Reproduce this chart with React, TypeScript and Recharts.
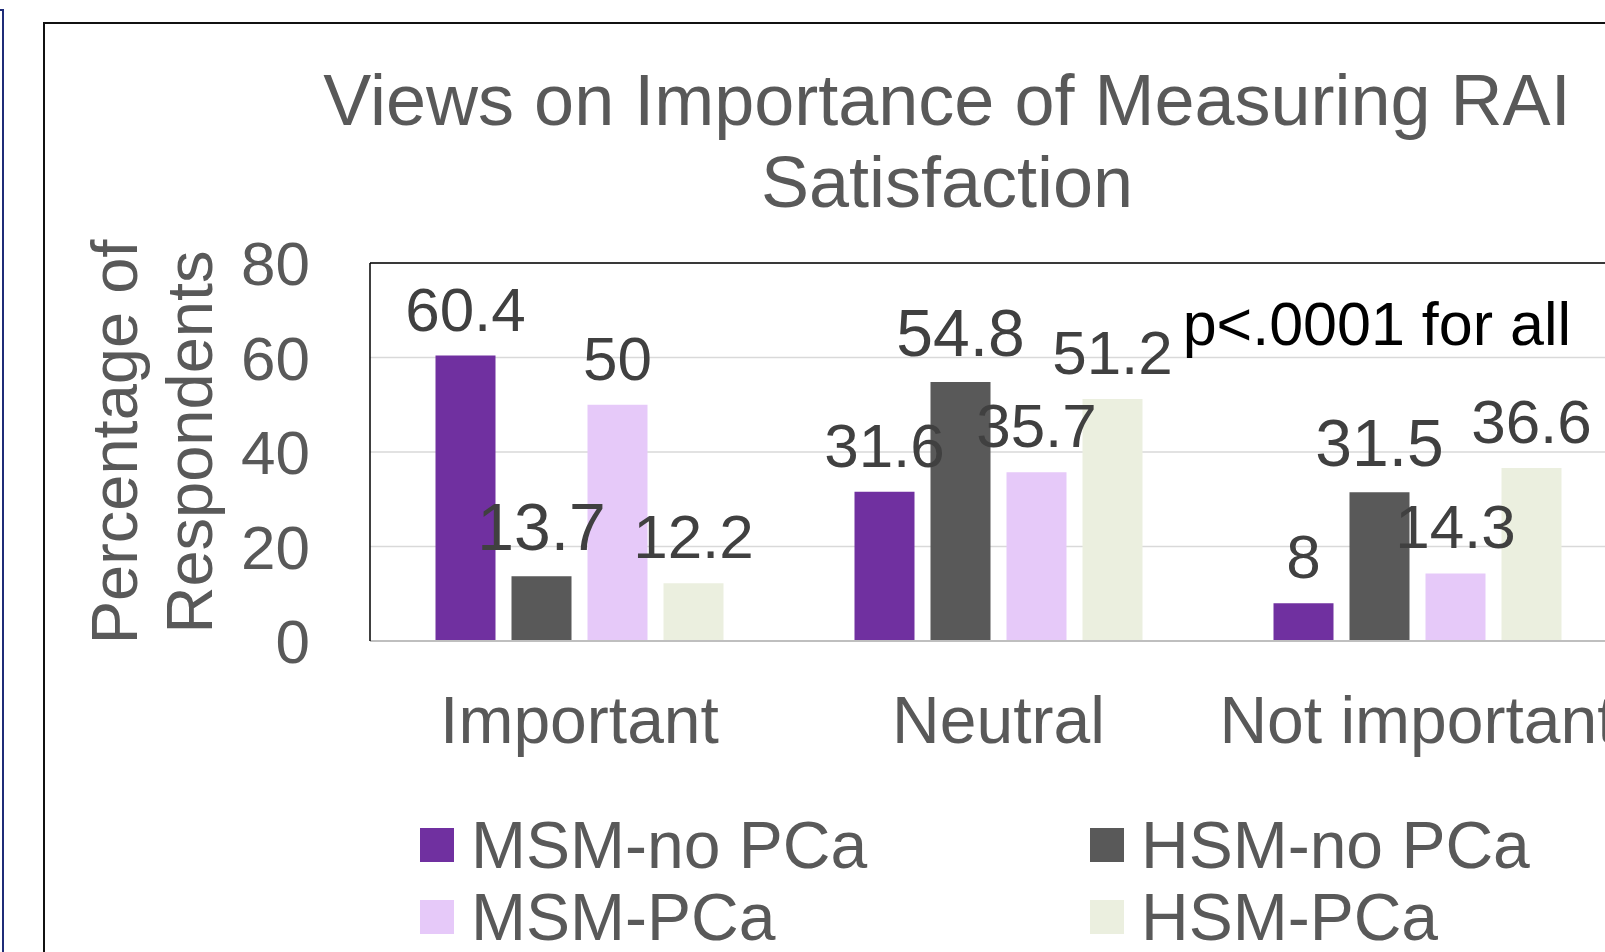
import React from 'react';
import { BarChart, Bar, XAxis, YAxis, CartesianGrid, LabelList, Legend, ReferenceLine } from 'recharts';

const categories = ['Important', 'Neutral', 'Not important'];
const msmNoPca = [60.4, 31.6, 8];
const hsmNoPca = [13.7, 54.8, 31.5];
const msmPca = [50, 35.7, 14.3];
const hsmPca = [12.2, 51.2, 36.6];
const yTicks = [0, 20, 40, 60, 80];
const legendOrder = ['MSM-no PCa', 'HSM-no PCa', 'MSM-PCa', 'HSM-PCa'];

const data = categories.map((c, i) => ({
  category: c,
  msmNoPca: msmNoPca[i],
  hsmNoPca: hsmNoPca[i],
  msmPca: msmPca[i],
  hsmPca: hsmPca[i],
}));

const FONT = '"Liberation Sans", Arial, sans-serif';

const renderLegend = (props: any) => {
  const payload = [...(props.payload || [])].sort(
    (a: any, b: any) => legendOrder.indexOf(a.value) - legendOrder.indexOf(b.value)
  );
  return (
    <div
      style={{
        display: 'grid',
        gridTemplateColumns: '670px 670px',
        fontFamily: FONT,
        fontSize: 66,
        lineHeight: '72px',
        color: '#595959',
      }}
    >
      {payload.map((p: any) => (
        <div key={p.value} style={{ display: 'flex', alignItems: 'center', height: 72, whiteSpace: 'nowrap' }}>
          <span style={{ width: 34, height: 34, background: p.color, marginRight: 17, flex: 'none' }} />
          <span>{p.value}</span>
        </div>
      ))}
    </div>
  );
};

const YLabel = (props: any) => {
  const vb = props.viewBox || { x: 0, y: 0, width: 0, height: 0 };
  const cx = vb.x + 137;
  const cy = vb.y + vb.height / 2 - 10;
  return (
    <text
      x={cx}
      y={cy}
      transform={`rotate(-90 ${cx} ${cy})`}
      textAnchor="middle"
      fill="#595959"
      fontSize={65}
      fontFamily={FONT}
    >
      <tspan x={cx} dy={0}>Percentage of</tspan>
      <tspan x={cx} dy={75}>Respondents</tspan>
    </text>
  );
};

const PLabel = (props: any) => {
  const vb = props.viewBox || { x: 0, y: 0, width: 0, height: 0 };
  return (
    <text
      x={vb.x + vb.width - 56}
      y={vb.y + 82}
      textAnchor="end"
      fill="#000000"
      fontSize={61}
      fontFamily={FONT}
    >
      p&lt;.0001 for all
    </text>
  );
};

export default function App() {
  return (
    <div
      style={{
        position: 'absolute',
        left: 0,
        top: 0,
        width: 1605,
        height: 952,
        overflow: 'hidden',
        background: '#ffffff',
        fontFamily: FONT,
      }}
    >
      <div
        style={{
          position: 'absolute',
          left: -8,
          top: 9,
          width: 12,
          height: 2000,
          border: '2px solid #1f2c78',
          boxSizing: 'border-box',
        }}
      />
      <div
        style={{
          position: 'absolute',
          left: 43,
          top: 22,
          width: 3000,
          height: 3000,
          border: '2px solid #111111',
          boxSizing: 'border-box',
        }}
      />
      <div
        style={{
          position: 'absolute',
          left: 0,
          top: 59,
          width: 1894,
          textAlign: 'center',
          fontSize: 72,
          lineHeight: '82px',
          color: '#595959',
          whiteSpace: 'nowrap',
        }}
      >
        Views on Importance of Measuring RAI
        <br />
        Satisfaction
      </div>
      <div style={{ position: 'absolute', left: 0, top: 0 }}>
        <BarChart
          width={1700}
          height={952}
          data={data}
          margin={{ top: 263, right: 73, bottom: 211, left: 0 }}
          barCategoryGap={65.5}
          barGap={16}
        >
          <CartesianGrid vertical={false} stroke="#d9d9d9" strokeWidth={1.5} />
          <XAxis
            dataKey="category"
            height={100}
            interval={0}
            tickLine={false}
            tickSize={0}
            tickMargin={55}
            axisLine={{ stroke: '#bfbfbf', strokeWidth: 2 }}
            tick={{ fill: '#595959', fontSize: 66, fontFamily: FONT }}
          />
          <YAxis
            width={370}
            domain={[0, 80]}
            ticks={yTicks}
            interval={0}
            tickLine={false}
            tickSize={0}
            tickMargin={60}
            axisLine={{ stroke: '#000000', strokeWidth: 1.5 }}
            tick={{ fill: '#595959', fontSize: 62, fontFamily: FONT }}
            label={<YLabel />}
          />
          <ReferenceLine y={80} stroke="#000000" strokeWidth={1.5} label={<PLabel />} />
          <Legend
            layout="horizontal"
            verticalAlign="middle"
            align="center"
            content={renderLegend}
            wrapperStyle={{ left: 420, top: 809, width: 1340 }}
          />
          <Bar dataKey="msmNoPca" name="MSM-no PCa" fill="#7030a0" isAnimationActive={false}>
            <LabelList dataKey="msmNoPca" position="top" offset={25} fill="#404040" fontSize={62} fontFamily={FONT} />
          </Bar>
          <Bar dataKey="hsmNoPca" name="HSM-no PCa" fill="#595959" isAnimationActive={false}>
            <LabelList dataKey="hsmNoPca" position="top" offset={26} fill="#404040" fontSize={66} fontFamily={FONT} />
          </Bar>
          <Bar dataKey="msmPca" name="MSM-PCa" fill="#e6c9f9" isAnimationActive={false}>
            <LabelList dataKey="msmPca" position="top" offset={25} fill="#404040" fontSize={62} fontFamily={FONT} />
          </Bar>
          <Bar dataKey="hsmPca" name="HSM-PCa" fill="#ebefdf" isAnimationActive={false}>
            <LabelList dataKey="hsmPca" position="top" offset={25} fill="#404040" fontSize={62} fontFamily={FONT} />
          </Bar>
        </BarChart>
      </div>
    </div>
  );
}
